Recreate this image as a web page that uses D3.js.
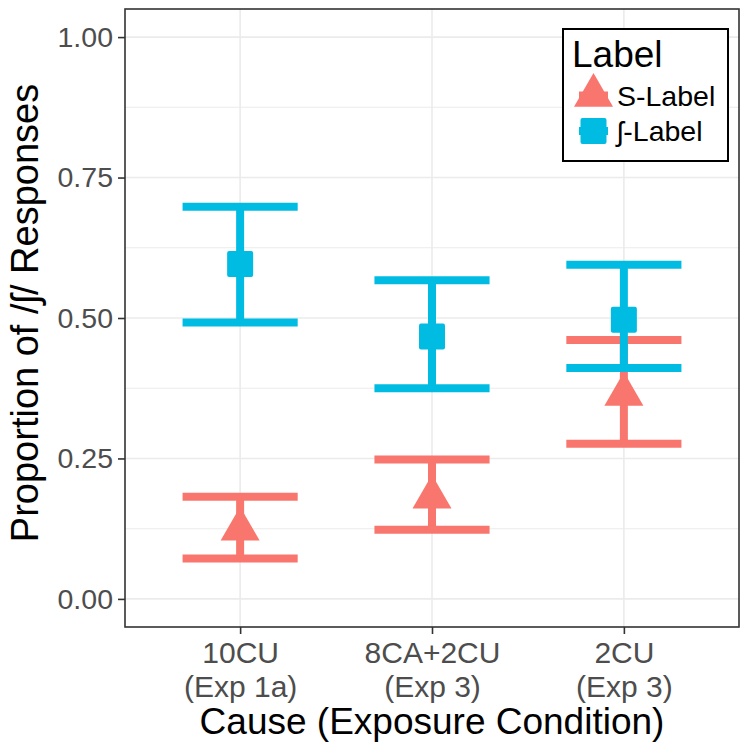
<!DOCTYPE html>
<html>
<head>
<meta charset="utf-8">
<script src="https://cdn.jsdelivr.net/npm/d3@7"></script>
<style>
  html, body { margin: 0; padding: 0; background: #ffffff; }
  svg { display: block; }
  text { font-family: "Liberation Sans", Arial, Helvetica, sans-serif; }
</style>
</head>
<body>
<svg id="chart" width="749" height="756"></svg>
<script>
// ---- data ----
const categories = ["10CU", "8CA+2CU", "2CU"];
const experiments = ["(Exp 1a)", "(Exp 3)", "(Exp 3)"];
const seriesNames = ["S-Label", "\u0283-Label"];
const seriesColors = ["#F8766D", "#00BCE3"];
const sMean = [0.124, 0.181, 0.364];
const sLow  = [0.072, 0.123, 0.276];
const sHigh = [0.182, 0.248, 0.461];
const shMean = [0.596, 0.467, 0.497];
const shLow  = [0.492, 0.375, 0.411];
const shHigh = [0.698, 0.567, 0.595];
const yTicks = [0, 0.25, 0.5, 0.75, 1];
const yMinorTicks = [0.125, 0.375, 0.625, 0.875];
const yLabel = "Proportion of /\u0283/ Responses";
const xLabel = "Cause (Exposure Condition)";
const legendTitle = "Label";

const series = [
  { name: seriesNames[0], color: seriesColors[0], shape: "triangle", mean: sMean, low: sLow, high: sHigh },
  { name: seriesNames[1], color: seriesColors[1], shape: "square", mean: shMean, low: shLow, high: shHigh }
];

// ---- layout ----
const svg = d3.select("#chart");
const panel = { left: 125, right: 739, top: 9, bottom: 627 };
const FONT = "'Liberation Sans', Arial, Helvetica, sans-serif";

const x = d3.scalePoint().domain(categories).range([panel.left, panel.right]).padding(0.6);
const y = d3.scaleLinear().domain([-0.05, 1.05]).range([panel.bottom, panel.top]);
const capW = x.step() * 0.6;

// background
svg.append("rect").attr("x", panel.left).attr("y", panel.top)
  .attr("width", panel.right - panel.left).attr("height", panel.bottom - panel.top)
  .attr("fill", "#ffffff");

// grid
const grid = svg.append("g");
grid.selectAll("line.minor").data(yMinorTicks).join("line")
  .attr("x1", panel.left).attr("x2", panel.right)
  .attr("y1", d => y(d)).attr("y2", d => y(d))
  .attr("stroke", "#EBEBEB").attr("stroke-width", 1.1);
grid.selectAll("line.major").data(yTicks).join("line")
  .attr("x1", panel.left).attr("x2", panel.right)
  .attr("y1", d => y(d)).attr("y2", d => y(d))
  .attr("stroke", "#EBEBEB").attr("stroke-width", 1.6);
grid.selectAll("line.vx").data(categories).join("line")
  .attr("x1", d => x(d)).attr("x2", d => x(d))
  .attr("y1", panel.top).attr("y2", panel.bottom)
  .attr("stroke", "#EBEBEB").attr("stroke-width", 1.6);

// shapes
function triPath(cx, cy) {
  const r = 22.5, yc = 11.3, xc = 19.5;
  return `M${cx},${cy - r}L${cx + xc},${cy + yc}L${cx - xc},${cy + yc}Z`;
}
function drawShape(g, shape, cx, cy, color) {
  if (shape === "triangle") {
    g.append("path").attr("d", triPath(cx, cy)).attr("fill", color);
  } else {
    g.append("rect").attr("x", cx - 13).attr("y", cy - 13)
      .attr("width", 26).attr("height", 26).attr("rx", 2).attr("fill", color);
  }
}

// error bars
const ebG = svg.append("g");
series.forEach(s => {
  categories.forEach((c, i) => {
    const cx = x(c);
    const g = ebG.append("g").attr("stroke", s.color).attr("stroke-width", 8).attr("fill", "none");
    g.append("line").attr("x1", cx).attr("x2", cx).attr("y1", y(s.high[i])).attr("y2", y(s.low[i]));
    g.append("line").attr("x1", cx - capW / 2).attr("x2", cx + capW / 2).attr("y1", y(s.high[i])).attr("y2", y(s.high[i]));
    g.append("line").attr("x1", cx - capW / 2).attr("x2", cx + capW / 2).attr("y1", y(s.low[i])).attr("y2", y(s.low[i]));
  });
});

// points
const ptG = svg.append("g");
series.forEach(s => {
  categories.forEach((c, i) => drawShape(ptG, s.shape, x(c), y(s.mean[i]), s.color));
});

// panel border
svg.append("rect").attr("x", panel.left).attr("y", panel.top)
  .attr("width", panel.right - panel.left).attr("height", panel.bottom - panel.top)
  .attr("fill", "none").attr("stroke", "#333333").attr("stroke-width", 1.6);

// y axis
const yAxis = svg.append("g").attr("transform", `translate(${panel.left},0)`)
  .call(d3.axisLeft(y).tickValues(yTicks).tickFormat(d3.format(".2f")).tickSize(7).tickPadding(5));
yAxis.select(".domain").remove();
yAxis.selectAll(".tick line").attr("stroke", "#333333").attr("stroke-width", 1.6);
yAxis.selectAll(".tick text").attr("fill", "#4D4D4D").style("font-size", "28.5px")
  .style("font-family", FONT);

// x axis
const xAxis = svg.append("g").attr("transform", `translate(0,${panel.bottom})`)
  .call(d3.axisBottom(x).tickSize(7).tickPadding(7));
xAxis.select(".domain").remove();
xAxis.selectAll(".tick line").attr("stroke", "#333333").attr("stroke-width", 1.6);
xAxis.selectAll(".tick text").each(function(d, i) {
  const t = d3.select(this);
  t.text(null).attr("dy", null).attr("y", null)
    .attr("fill", "#4D4D4D").style("font-size", "30px")
    .style("font-family", FONT);
  t.append("tspan").attr("x", 0).attr("y", 36).text(categories[i]);
  t.append("tspan").attr("x", 0).attr("y", 70).text(experiments[categories.indexOf(d)]);
});

// axis titles
svg.append("text").attr("x", (panel.left + panel.right) / 2).attr("y", 734)
  .attr("text-anchor", "middle").attr("fill", "#000000").style("font-size", "37px").text(xLabel);
svg.append("text").attr("transform", `translate(38,${(panel.top + panel.bottom) / 2 - 5}) rotate(-90)`)
  .attr("text-anchor", "middle").attr("fill", "#000000").style("font-size", "38px").text(yLabel);

// legend
const lg = svg.append("g");
lg.append("rect").attr("x", 563).attr("y", 29).attr("width", 165).attr("height", 132)
  .attr("fill", "#ffffff").attr("stroke", "#000000").attr("stroke-width", 2);
lg.append("text").attr("x", 572).attr("y", 67).attr("fill", "#000000").style("font-size", "37px").text(legendTitle);
const keyY = [95.5, 131];
series.forEach((s, i) => {
  const cy = keyY[i];
  lg.append("line").attr("x1", 579).attr("x2", 608).attr("y1", cy).attr("y2", cy)
    .attr("stroke", s.color).attr("stroke-width", 8);
  drawShape(lg, s.shape, 593.5, cy, s.color);
  lg.append("text").attr("x", 617).attr("y", cy + 10).attr("fill", "#000000")
    .style("font-size", "28.5px").text(s.name);
});
</script>
</body>
</html>
